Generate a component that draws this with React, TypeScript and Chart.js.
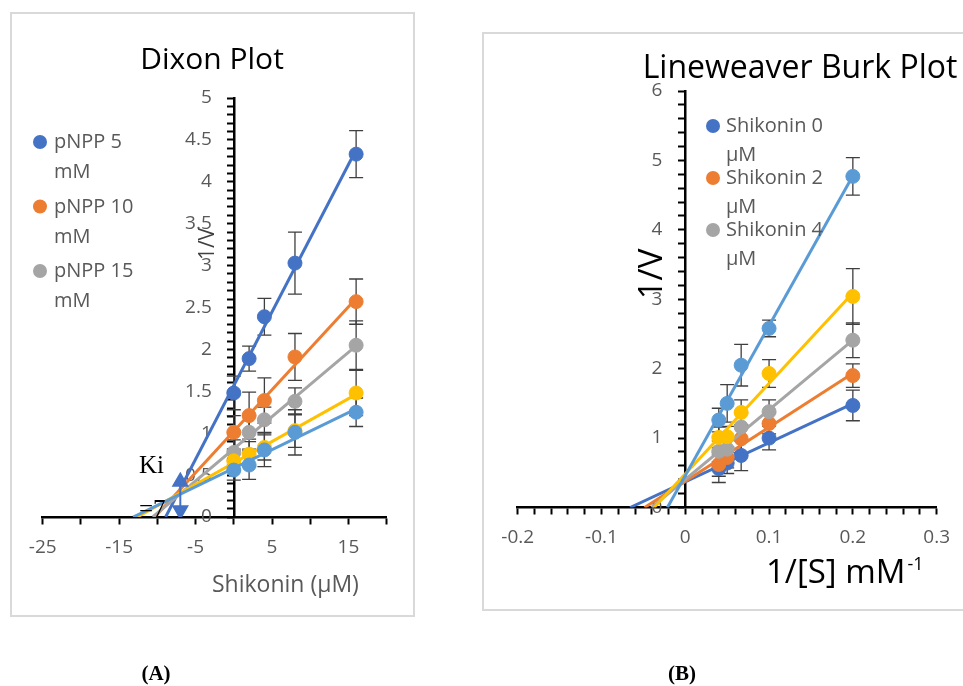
import React, { useEffect, useRef } from 'react';
import { Chart, registerables } from 'chart.js';

Chart.register(...registerables);

const FONT = "'Open Sans', 'Noto Sans', sans-serif";
const TICK_COLOR = '#595959';
const TICK_FONT_SIZE = 19;
const SERIES_COLORS = ['#4472C4', '#ED7D31', '#A5A5A5', '#FFC000', '#5B9BD5'];

// ---------------- (A) Dixon plot ----------------
const dixonTitle = 'Dixon Plot';
const dixonXTitle = 'Shikonin (\u00b5M)';
const dixonYTitle = '1/V';
const dixonShikonin = [0, 2, 4, 8, 16];
const dixonNames = ['pNPP 5 mM', 'pNPP 10 mM', 'pNPP 15 mM', 'pNPP 20 mM', 'pNPP 25 mM'];
const dixonPNPP5 = [1.48, 1.89, 2.39, 3.03, 4.33];
const dixonPNPP10 = [1.01, 1.21, 1.39, 1.91, 2.57];
const dixonPNPP15 = [0.77, 1.01, 1.16, 1.38, 2.05];
const dixonPNPP20 = [0.67, 0.75, 0.83, 1.03, 1.48];
const dixonPNPP25 = [0.56, 0.62, 0.8, 1.01, 1.25];
const dixonErr5 = [0.2, 0.15, 0.22, 0.37, 0.28];
const dixonErr10 = [0.2, 0.28, 0.27, 0.28, 0.27];
const dixonErr15 = [0.15, 0.2, 0.15, 0.16, 0.29];
const dixonErr20 = [0.12, 0.15, 0.15, 0.2, 0.27];
const dixonErr25 = [0.12, 0.17, 0.2, 0.27, 0.17];
const dixonXMin = -25;
const dixonXMax = 20;
const dixonXStep = 5;
const dixonXTickLabels = [-25, -15, -5, 5, 15];
const dixonYMin = 0;
const dixonYMax = 5;
const dixonYStep = 0.1;
const dixonYLabelEvery = 0.5;
const dixonLegendVisible = 3;
const kiShikonin = -7;
const kiArrowY = [0.42, 0.08];
const kiText = ['Ki', '=7'];

// ---------------- (B) Lineweaver-Burk plot ----------------
const lbTitle = 'Lineweaver Burk Plot';
const lbXTitle = '1/[S] mM';
const lbXTitleSup = '-1';
const lbYTitle = '1/V';
const lbInvS = [0.04, 0.05, 0.0667, 0.1, 0.2];
const lbNames = ['Shikonin 0 \u00b5M', 'Shikonin 2 \u00b5M', 'Shikonin 4 \u00b5M', 'Shikonin 8 \u00b5M', 'Shikonin 16 \u00b5M'];
const lbShik0 = [0.56, 0.64, 0.75, 1.0, 1.47];
const lbShik2 = [0.62, 0.72, 0.99, 1.21, 1.9];
const lbShik4 = [0.81, 0.84, 1.16, 1.38, 2.41];
const lbShik8 = [1.01, 1.02, 1.37, 1.93, 3.04];
const lbShik16 = [1.26, 1.5, 2.05, 2.58, 4.77];
const lbErr0 = [0.2, 0.15, 0.22, 0.17, 0.22];
const lbErr2 = [0.17, 0.15, 0.2, 0.15, 0.17];
const lbErr4 = [0.15, 0.15, 0.2, 0.17, 0.25];
const lbErr8 = [0.15, 0.15, 0.18, 0.2, 0.4];
const lbErr16 = [0.17, 0.27, 0.3, 0.12, 0.27];
const lbXMin = -0.2;
const lbXMax = 0.3;
const lbXStep = 0.02;
const lbXLabelEvery = 0.1;
const lbYMin = 0;
const lbYMax = 6;
const lbYStep = 0.2;
const lbYLabelEvery = 1;
const lbLegendVisible = 3;

function linearFit(xs: number[], ys: number[]) {
  const n = xs.length;
  const mx = xs.reduce((a, b) => a + b, 0) / n;
  const my = ys.reduce((a, b) => a + b, 0) / n;
  let sxy = 0;
  let sxx = 0;
  for (let i = 0; i < n; i++) {
    sxy += (xs[i] - mx) * (ys[i] - my);
    sxx += (xs[i] - mx) * (xs[i] - mx);
  }
  const m = sxy / sxx;
  return { m, b: my - m * mx };
}

function buildDatasets(xs: number[], series: number[][], errs: number[][], names: string[]) {
  const out: any[] = [];
  const n = series.length;
  series.forEach((ys, i) => {
    const fit = linearFit(xs, ys);
    const x0 = -fit.b / fit.m;
    const x1 = Math.max(...xs);
    const pointsOrder = (n - 1 - i) * 2;
    out.push({
      label: names[i] + ' (linear)',
      data: [
        { x: x0, y: 0 },
        { x: x1, y: fit.m * x1 + fit.b },
      ],
      showLine: true,
      borderColor: SERIES_COLORS[i],
      borderWidth: 3,
      pointRadius: 0,
      order: pointsOrder + 1,
    });
    out.push({
      label: names[i],
      data: xs.map((x, j) => ({ x, y: ys[j] })),
      showLine: false,
      pointRadius: 7,
      pointBackgroundColor: SERIES_COLORS[i],
      pointBorderColor: SERIES_COLORS[i],
      pointBorderWidth: 1,
      errors: errs[i],
      order: pointsOrder,
    });
  });
  return out;
}

const isMultiple = (v: number, step: number) => Math.abs(v / step - Math.round(v / step)) < 1e-6;
const fmt = (v: number) => String(Math.round(v * 1000) / 1000);

const errorBarPlugin = {
  id: 'errorBars',
  beforeDatasetsDraw(chart: any) {
    const ctx = chart.ctx as CanvasRenderingContext2D;
    const ys = chart.scales.y;
    ctx.save();
    ctx.strokeStyle = '#3f3f3f';
    ctx.lineWidth = 1.3;
    chart.data.datasets.forEach((ds: any, di: number) => {
      if (!ds.errors) return;
      const meta = chart.getDatasetMeta(di);
      meta.data.forEach((pt: any, i: number) => {
        const e = ds.errors[i];
        const v = ds.data[i].y;
        const x = pt.x;
        const yt = ys.getPixelForValue(v + e);
        const yb = ys.getPixelForValue(v - e);
        ctx.beginPath();
        ctx.moveTo(x, yt);
        ctx.lineTo(x, yb);
        ctx.moveTo(x - 7, yt);
        ctx.lineTo(x + 7, yt);
        ctx.moveTo(x - 7, yb);
        ctx.lineTo(x + 7, yb);
        ctx.stroke();
      });
    });
    ctx.restore();
  },
};

// y-axis sits at x = 0 inside the plot, so its tick labels are placed here from the scale's own ticks
function makeYLabelPlugin(every: number, gap: number) {
  return {
    id: 'yAxisLabels',
    beforeDatasetsDraw(chart: any) {
      const ctx = chart.ctx as CanvasRenderingContext2D;
      const ys = chart.scales.y;
      const axisX = chart.scales.x.getPixelForValue(0);
      ctx.save();
      ctx.font = `${TICK_FONT_SIZE}px ${FONT}`;
      ctx.fillStyle = TICK_COLOR;
      ctx.textAlign = 'right';
      ctx.textBaseline = 'middle';
      ys.ticks.forEach((t: any) => {
        if (!isMultiple(t.value, every)) return;
        ctx.fillText(fmt(t.value), axisX - gap, ys.getPixelForValue(t.value));
      });
      ctx.restore();
    },
  };
}

function drawRotated(ctx: CanvasRenderingContext2D, text: string, baseX: number, cy: number, font: string, color: string) {
  ctx.save();
  ctx.translate(baseX, cy);
  ctx.rotate(-Math.PI / 2);
  ctx.font = font;
  ctx.fillStyle = color;
  ctx.textAlign = 'center';
  ctx.textBaseline = 'alphabetic';
  ctx.fillText(text, 0, 0);
  ctx.restore();
}

function drawLegend(
  ctx: CanvasRenderingContext2D,
  names: string[],
  count: number,
  mx: number,
  my: number,
  gap: number,
  tx: number,
  lineGap: number,
  font: string
) {
  for (let i = 0; i < count; i++) {
    const y = my + i * gap;
    ctx.beginPath();
    ctx.arc(mx, y, 7, 0, Math.PI * 2);
    ctx.fillStyle = SERIES_COLORS[i];
    ctx.fill();
    const name = names[i];
    const cut = name.lastIndexOf(' ');
    const lines = [name.slice(0, cut), name.slice(cut + 1)];
    ctx.font = font;
    ctx.fillStyle = TICK_COLOR;
    ctx.textAlign = 'left';
    ctx.textBaseline = 'alphabetic';
    ctx.fillText(lines[0], tx, y + 6);
    ctx.fillText(lines[1], tx, y + 6 + lineGap);
  }
}

const dixonOverlay = {
  id: 'dixonOverlay',
  afterDraw(chart: any) {
    const ctx = chart.ctx as CanvasRenderingContext2D;
    ctx.save();
    ctx.fillStyle = '#000';
    ctx.font = `30px ${FONT}`;
    ctx.textAlign = 'center';
    ctx.textBaseline = 'alphabetic';
    ctx.fillText(dixonTitle, 212, 69);
    ctx.font = `23px ${FONT}`;
    ctx.fillStyle = TICK_COLOR;
    ctx.textAlign = 'left';
    ctx.fillText(dixonXTitle, 212, 592);
    drawRotated(ctx, dixonYTitle, 214, 244, `21px ${FONT}`, '#404040');
    drawLegend(ctx, dixonNames, dixonLegendVisible, 40, 142, 64.5, 54, 30, `20px ${FONT}`);
    ctx.fillStyle = '#000';
    ctx.font = "25px 'Liberation Serif', serif";
    ctx.textAlign = 'left';
    ctx.fillText(kiText[0], 139, 473);
    ctx.fillText(kiText[1], 139, 517);
    ctx.restore();
  },
};

const lbOverlay = {
  id: 'lbOverlay',
  afterDraw(chart: any) {
    const ctx = chart.ctx as CanvasRenderingContext2D;
    ctx.save();
    ctx.fillStyle = '#000';
    ctx.font = `32px ${FONT}`;
    ctx.textAlign = 'center';
    ctx.textBaseline = 'alphabetic';
    ctx.fillText(lbTitle, 800, 78);
    ctx.textAlign = 'left';
    ctx.font = `33px ${FONT}`;
    ctx.fillText(lbXTitle, 766, 583);
    const w = ctx.measureText(lbXTitle).width;
    ctx.font = `18px ${FONT}`;
    ctx.fillText(lbXTitleSup, 766 + w + 2, 570);
    drawRotated(ctx, lbYTitle, 662, 274, `33px ${FONT}`, '#000');
    drawLegend(ctx, lbNames, lbLegendVisible, 713, 126, 52, 726, 29, `20px ${FONT}`);
    ctx.restore();
  },
};

function axisCommon() {
  return {
    grid: { display: true, drawOnChartArea: false, drawTicks: true, tickLength: 6, tickColor: '#000', tickWidth: 2 },
    border: { display: true, color: '#000', width: 2.5 },
  };
}

function makeDixonConfig(): any {
  const datasets = buildDatasets(
    dixonShikonin,
    [dixonPNPP5, dixonPNPP10, dixonPNPP15, dixonPNPP20, dixonPNPP25],
    [dixonErr5, dixonErr10, dixonErr15, dixonErr20, dixonErr25],
    dixonNames
  );
  datasets.push({
    label: 'Ki',
    data: kiArrowY.map((y) => ({ x: kiShikonin, y })),
    showLine: true,
    borderColor: SERIES_COLORS[0],
    borderWidth: 2,
    pointStyle: 'triangle',
    pointRotation: [0, 180],
    pointRadius: 8,
    pointBackgroundColor: SERIES_COLORS[0],
    pointBorderColor: SERIES_COLORS[0],
    order: -1,
  });
  return {
    type: 'scatter',
    data: { datasets },
    plugins: [makeYLabelPlugin(dixonYLabelEvery, 22), errorBarPlugin, dixonOverlay],
    options: {
      animation: false,
      responsive: false,
      maintainAspectRatio: false,
      layout: { padding: { left: 42.7, right: 963 - 386.7, top: 98, bottom: 686 - 517 } },
      plugins: { legend: { display: false }, tooltip: { enabled: false }, title: { display: false } },
      scales: {
        x: {
          type: 'linear',
          min: dixonXMin,
          max: dixonXMax,
          position: { y: 0 },
          ticks: {
            stepSize: dixonXStep,
            autoSkip: false,
            maxRotation: 0,
            color: TICK_COLOR,
            font: { family: FONT, size: TICK_FONT_SIZE },
            padding: 13,
            callback: (v: number) => (dixonXTickLabels.some((t) => Math.abs(t - v) < 1e-9) ? fmt(v) : ''),
          },
          ...axisCommon(),
        },
        y: {
          type: 'linear',
          min: dixonYMin,
          max: dixonYMax,
          position: { x: 0 },
          ticks: { stepSize: dixonYStep, autoSkip: false, display: false },
          ...axisCommon(),
        },
      },
    },
  };
}

function makeLbConfig(): any {
  const datasets = buildDatasets(
    lbInvS,
    [lbShik0, lbShik2, lbShik4, lbShik8, lbShik16],
    [lbErr0, lbErr2, lbErr4, lbErr8, lbErr16],
    lbNames
  );
  return {
    type: 'scatter',
    data: { datasets },
    plugins: [makeYLabelPlugin(lbYLabelEvery, 23), errorBarPlugin, lbOverlay],
    options: {
      animation: false,
      responsive: false,
      maintainAspectRatio: false,
      layout: { padding: { left: 517.7, right: 963 - 937.2, top: 91, bottom: 686 - 507.5 } },
      plugins: { legend: { display: false }, tooltip: { enabled: false }, title: { display: false } },
      scales: {
        x: {
          type: 'linear',
          min: lbXMin,
          max: lbXMax,
          position: { y: 0 },
          ticks: {
            stepSize: lbXStep,
            autoSkip: false,
            maxRotation: 0,
            color: TICK_COLOR,
            font: { family: FONT, size: TICK_FONT_SIZE },
            padding: 13,
            callback: (v: number) => (isMultiple(v, lbXLabelEvery) ? fmt(v) : ''),
          },
          ...axisCommon(),
        },
        y: {
          type: 'linear',
          min: lbYMin,
          max: lbYMax,
          position: { x: 0 },
          ticks: { stepSize: lbYStep, autoSkip: false, display: false },
          ...axisCommon(),
        },
      },
    },
  };
}

export default function App() {
  const refA = useRef<HTMLCanvasElement>(null);
  const refB = useRef<HTMLCanvasElement>(null);
  useEffect(() => {
    const a = new Chart(refA.current as HTMLCanvasElement, makeDixonConfig());
    const b = new Chart(refB.current as HTMLCanvasElement, makeLbConfig());
    return () => {
      a.destroy();
      b.destroy();
    };
  }, []);
  const caption: React.CSSProperties = {
    position: 'absolute',
    top: 660,
    width: 80,
    textAlign: 'center',
    fontFamily: "'Liberation Serif', serif",
    fontWeight: 'bold',
    fontSize: 21,
    lineHeight: '26px',
    color: '#000',
  };
  return (
    <div style={{ position: 'absolute', left: 0, top: 0, width: 963, height: 686, background: '#fff', overflow: 'hidden' }}>
      <div style={{ position: 'absolute', left: 10, top: 12, width: 405, height: 605, border: '2px solid #d9d9d9', boxSizing: 'border-box' }} />
      <div style={{ position: 'absolute', left: 482, top: 32, width: 600, height: 579, border: '2px solid #d9d9d9', boxSizing: 'border-box' }} />
      <canvas ref={refA} width={963} height={686} style={{ position: 'absolute', left: 0, top: 0 }} />
      <canvas ref={refB} width={963} height={686} style={{ position: 'absolute', left: 0, top: 0 }} />
      <div style={{ ...caption, left: 116 }}>(A)</div>
      <div style={{ ...caption, left: 642 }}>(B)</div>
    </div>
  );
}
